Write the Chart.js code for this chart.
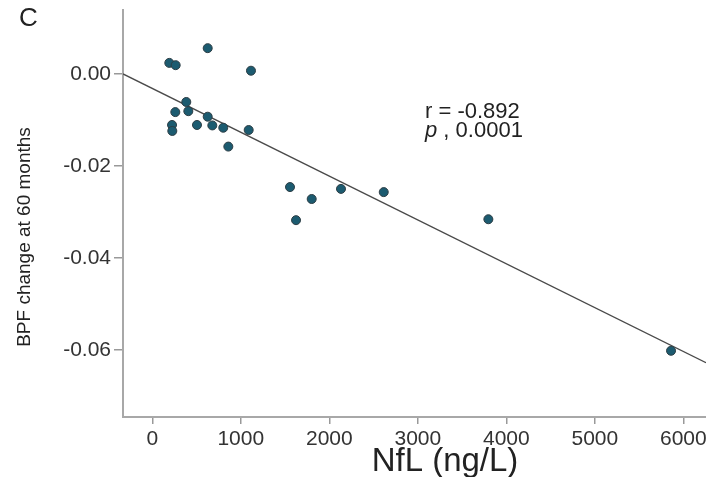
<!DOCTYPE html>
<html lang="en">
<head>
  <meta charset="utf-8">
  <title>NfL vs BPF change</title>
  <script src="https://cdn.jsdelivr.net/npm/chart.js@4.4.1/dist/chart.umd.min.js"></script>
  <style>
    html, body { margin: 0; padding: 0; background: #fff; }
  </style>
</head>
<body>
  <canvas id="chart" width="706" height="477"></canvas>

  <script>
    // NfL (ng/L) and BPF change at 60 months
    const nflValues = [192, 264, 626, 1115, 384, 260, 407, 626, 223, 505, 678,
      802, 1089, 226, 859, 1556, 1801, 2132, 1624, 2615, 3797, 5861];
    const bpfChange = [0.0024, 0.0019, 0.0056, 0.0007, -0.0061, -0.0083, -0.0081,
      -0.0093, -0.0111, -0.0111, -0.0112, -0.0117, -0.0122, -0.0124, -0.0158,
      -0.0246, -0.0272, -0.0250, -0.0318, -0.0257, -0.0316, -0.0602];

    // regression line ends
    const fitX = [-331, 6256];
    const fitY = [0.0000, -0.0628];

    const xTicks = [0, 1000, 2000, 3000, 4000, 5000, 6000];
    const yTicks = [0.00, -0.02, -0.04, -0.06];

    const FONT = "'Liberation Sans', Arial, sans-serif";

    const textPlugin = {
      id: 'texts',
      afterDraw(chart) {
        const ctx = chart.ctx;
        ctx.save();
        ctx.fillStyle = '#222';
        ctx.textBaseline = 'middle';

        // panel letter
        ctx.font = "26px " + FONT;
        ctx.textAlign = 'left';
        ctx.fillText('C', 19, 19);

        // correlation note
        ctx.font = "22px " + FONT;
        ctx.fillText('r = -0.892', 425, 112);
        ctx.font = "italic 22px " + FONT;
        ctx.fillText('p', 425, 131);
        var w = ctx.measureText('p').width;
        ctx.font = "22px " + FONT;
        ctx.fillText(' , 0.0001', 425 + w, 131);

        // x title
        ctx.font = "33px " + FONT;
        ctx.textAlign = 'center';
        ctx.fillText('NfL (ng/L)', 445, 462);

        // y title
        ctx.translate(25, 237);
        ctx.rotate(-Math.PI / 2);
        ctx.font = "19px " + FONT;
        ctx.fillText('BPF change at 60 months', 0, 0);
        ctx.restore();
      }
    };

    new Chart(document.getElementById('chart'), {
      type: 'scatter',
      data: {
        datasets: [{
          type: 'scatter',
          data: nflValues.map((v, i) => ({ x: v, y: bpfChange[i] })),
          backgroundColor: '#1c5b70',
          borderColor: '#2d3d44',
          borderWidth: 1,
          pointRadius: 4.5,
          order: 1
        }, {
          type: 'line',
          data: fitX.map((v, i) => ({ x: v, y: fitY[i] })),
          borderColor: '#4a4a4a',
          borderWidth: 1.3,
          pointRadius: 0,
          fill: false,
          order: 2
        }]
      },
      options: {
        responsive: false,
        animation: false,
        layout: { autoPadding: false, padding: { top: 10, right: 0, left: 0, bottom: 0 } },
        plugins: { legend: { display: false }, tooltip: { enabled: false } },
        scales: {
          x: {
            type: 'linear',
            min: fitX[0],
            max: fitX[1],
            afterBuildTicks: s => { s.ticks = xTicks.map(v => ({ value: v })); },
            afterFit: s => { s.height = 60; s.paddingLeft = 0; s.paddingRight = 0; },
            grid: { drawOnChartArea: false, drawTicks: true, tickLength: 7, color: '#999', lineWidth: 1.5 },
            border: { color: '#a8a8a8', width: 2 },
            ticks: {
              font: { size: 21, family: FONT }, color: '#333', padding: 3, maxRotation: 0, autoSkip: false,
              callback: v => String(v)
            }
          },
          y: {
            min: -0.0746,
            max: 0.0139,
            afterBuildTicks: s => { s.ticks = yTicks.map(v => ({ value: v })); },
            afterFit: s => { s.width = 123; s.paddingTop = 0; s.paddingBottom = 0; },
            grid: { drawOnChartArea: false, drawTicks: true, tickLength: 9, color: '#999', lineWidth: 1.5 },
            border: { color: '#a8a8a8', width: 2 },
            ticks: {
              font: { size: 21, family: FONT }, color: '#333', padding: 3, autoSkip: false,
              callback: v => Number(v).toFixed(2)
            }
          }
        }
      },
      plugins: [textPlugin]
    });
  </script>
</body>
</html>
